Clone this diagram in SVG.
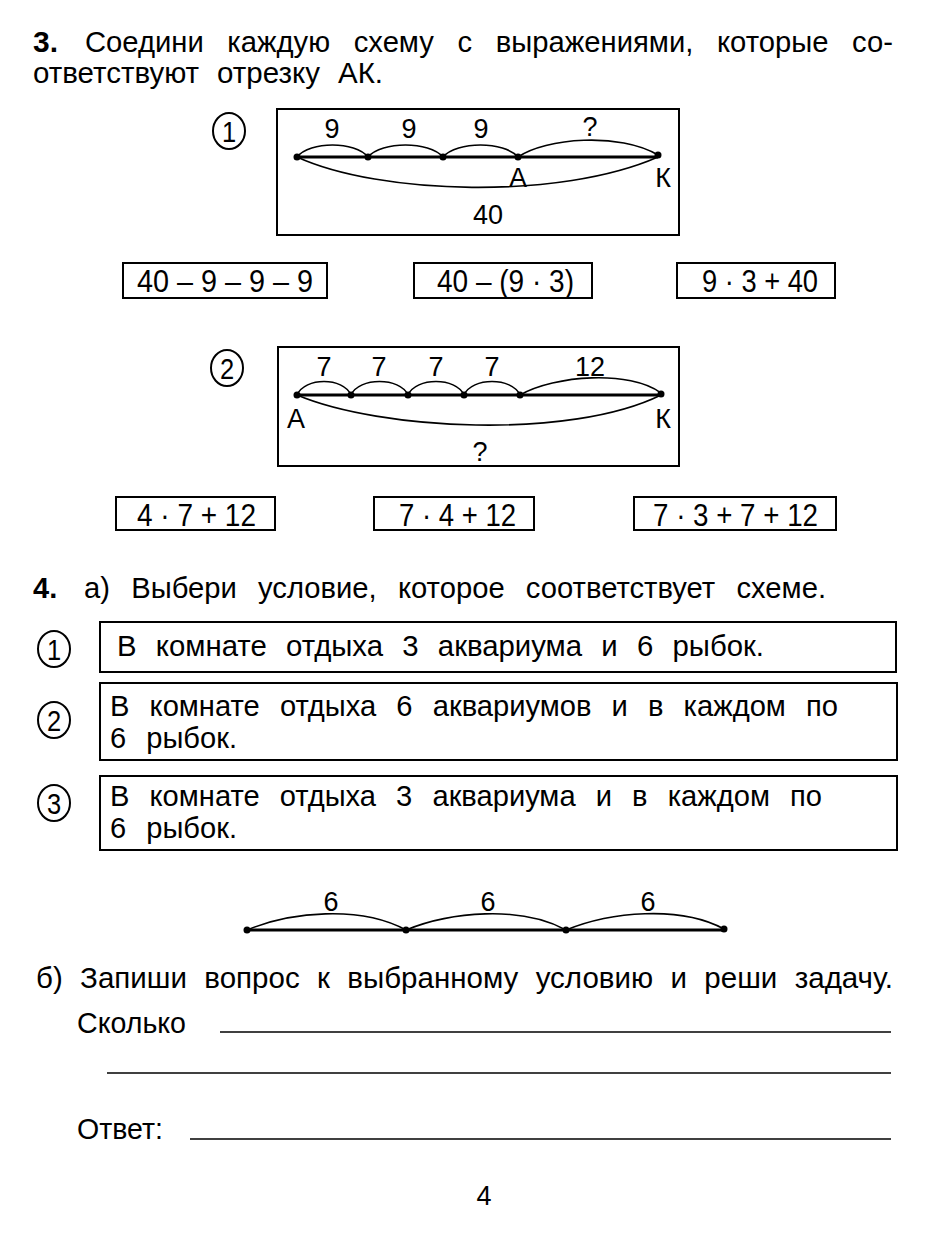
<svg xmlns="http://www.w3.org/2000/svg" width="933" height="1234" viewBox="0 0 933 1234">
<style>
text{font-family:"Liberation Sans",Arial,sans-serif;fill:#000}
.h{font-size:30px}
.b{font-weight:bold}
.t{font-size:29px}
.e{font-size:31px}
.l{font-size:27px;text-anchor:middle}
.n{font-size:30px;text-anchor:middle}
.frame{fill:none;stroke:#000;stroke-width:2}
.line{fill:none;stroke:#000;stroke-width:3}
.arc{fill:none;stroke:#000;stroke-width:1.6}
.ul{stroke:#000;stroke-width:1.6}
</style>
<rect width="933" height="1234" fill="#fff"/>

<g id="task3-header">
<text class="h b" x="33" y="52">3.</text>
<text class="h" x="85" y="52" word-spacing="16" textLength="808" lengthAdjust="spacingAndGlyphs">Соедини каждую схему с выражениями, которые со-</text>
<text class="h" x="33" y="83" word-spacing="10" textLength="350" lengthAdjust="spacingAndGlyphs">ответствуют отрезку АК.</text>
</g>

<g id="scheme1">
<ellipse cx="229" cy="131" rx="16" ry="18" class="frame"/>
<text class="n" transform="translate(229,142) scale(0.85,1)">1</text>
<rect x="277" y="109" width="402" height="126" class="frame"/>
<path class="line" d="M297,157H658"/>
<path class="arc" d="M297,157C310,141 355,141 368,157M368,157C382,141 429,141 443,157M443,157C457,141 504,141 518,157M518,157C545,138 620,132 658,155M297,157C380,195 560,200 658,157"/>
<g fill="#000"><circle cx="297" cy="157" r="3.5"/><circle cx="368" cy="157" r="3.5"/><circle cx="443" cy="157" r="3.5"/><circle cx="518" cy="157" r="3.5"/><circle cx="658" cy="155" r="3.5"/></g>
<text class="l" x="332" y="138">9</text>
<text class="l" x="409" y="138">9</text>
<text class="l" x="481" y="138">9</text>
<text class="l" x="590" y="136">?</text>
<text class="l" x="518" y="187">А</text>
<text class="l" x="663" y="187">К</text>
<text class="l" x="488" y="224">40</text>
</g>

<g id="expr1">
<rect x="123" y="263" width="204" height="35" class="frame"/>
<text class="e" x="137" y="292" textLength="176" lengthAdjust="spacingAndGlyphs">40 – 9 – 9 – 9</text>
<rect x="414" y="263" width="178" height="35" class="frame"/>
<text class="e" x="437" y="292" textLength="137" lengthAdjust="spacingAndGlyphs">40 – (9 · 3)</text>
<rect x="677" y="263" width="158" height="35" class="frame"/>
<text class="e" x="702" y="292" textLength="116" lengthAdjust="spacingAndGlyphs">9 · 3 + 40</text>
</g>

<g id="scheme2">
<ellipse cx="227" cy="368" rx="16" ry="18" class="frame"/>
<text class="n" transform="translate(227,379) scale(0.85,1)">2</text>
<rect x="278" y="347" width="401" height="119" class="frame"/>
<path class="line" d="M297,395H661"/>
<path class="arc" d="M297,395C305,377 343,377 351,395M351,395C359,377 400,377 408,395M408,395C416,377 456,377 464,395M464,395C472,377 512,377 520,395M520,395C555,375 630,370 661,393M297,395C380,430 570,440 661,395"/>
<g fill="#000"><circle cx="297" cy="395" r="3.5"/><circle cx="351" cy="395" r="3.5"/><circle cx="408" cy="395" r="3.5"/><circle cx="464" cy="395" r="3.5"/><circle cx="520" cy="395" r="3.5"/><circle cx="661" cy="394" r="3.5"/></g>
<text class="l" x="324" y="376">7</text>
<text class="l" x="379" y="376">7</text>
<text class="l" x="436" y="376">7</text>
<text class="l" x="492" y="376">7</text>
<text class="l" x="590" y="376">12</text>
<text class="l" x="296" y="428">А</text>
<text class="l" x="663" y="428">К</text>
<text class="l" x="480" y="461">?</text>
</g>

<g id="expr2">
<rect x="116" y="497" width="159" height="33" class="frame"/>
<text class="e" x="137" y="526" textLength="119" lengthAdjust="spacingAndGlyphs">4 · 7 + 12</text>
<rect x="374" y="497" width="160" height="33" class="frame"/>
<text class="e" x="399" y="526" textLength="117" lengthAdjust="spacingAndGlyphs">7 · 4 + 12</text>
<rect x="634" y="497" width="202" height="33" class="frame"/>
<text class="e" x="653" y="526" textLength="165" lengthAdjust="spacingAndGlyphs">7 · 3 + 7 + 12</text>
</g>

<g id="task4-header">
<text class="t b" x="33" y="598">4.</text>
<text class="t" x="84" y="598" word-spacing="13" textLength="742" lengthAdjust="spacingAndGlyphs">а) Выбери условие, которое соответствует схеме.</text>
</g>

<g id="option1">
<ellipse cx="54" cy="649" rx="16" ry="18" class="frame"/>
<text class="n" transform="translate(54,660) scale(0.85,1)">1</text>
<rect x="100" y="622" width="796" height="50" class="frame"/>
<text class="t" x="117" y="656" word-spacing="11" textLength="647" lengthAdjust="spacingAndGlyphs">В комнате отдыха 3 аквариума и 6 рыбок.</text>
</g>

<g id="option2">
<ellipse cx="54" cy="720" rx="16" ry="18" class="frame"/>
<text class="n" transform="translate(54,731) scale(0.85,1)">2</text>
<rect x="100" y="683" width="797" height="77" class="frame"/>
<text class="t" x="110" y="716" word-spacing="12" textLength="728" lengthAdjust="spacingAndGlyphs">В комнате отдыха 6 аквариумов и в каждом по</text>
<text class="t" x="110" y="748" word-spacing="12" textLength="127" lengthAdjust="spacingAndGlyphs">6 рыбок.</text>
</g>

<g id="option3">
<ellipse cx="54" cy="803" rx="16" ry="18" class="frame"/>
<text class="n" transform="translate(54,814) scale(0.85,1)">3</text>
<rect x="100" y="776" width="797" height="74" class="frame"/>
<text class="t" x="110" y="806" word-spacing="12" textLength="712" lengthAdjust="spacingAndGlyphs">В комнате отдыха 3 аквариума и в каждом по</text>
<text class="t" x="110" y="838" word-spacing="12" textLength="127" lengthAdjust="spacingAndGlyphs">6 рыбок.</text>
</g>

<g id="scheme3">
<path class="line" d="M247,930H724"/>
<path class="arc" d="M247,930C290,912 360,905 406,930M406,930C450,912 520,905 566,930M566,930C610,912 680,905 724,929"/>
<g fill="#000"><circle cx="247" cy="930" r="3.5"/><circle cx="406" cy="930" r="3.5"/><circle cx="566" cy="930" r="3.5"/><circle cx="724" cy="929" r="3.5"/></g>
<text class="l" x="331" y="911">6</text>
<text class="l" x="488" y="911">6</text>
<text class="l" x="648" y="911">6</text>
</g>

<g id="task4b">
<text class="t" x="36" y="988" word-spacing="9" textLength="857" lengthAdjust="spacingAndGlyphs">б) Запиши вопрос к выбранному условию и реши задачу.</text>
<text class="t" x="77" y="1033" textLength="109" lengthAdjust="spacingAndGlyphs">Сколько</text>
<line class="ul" x1="220" y1="1032" x2="891" y2="1032"/>
<line class="ul" x1="107" y1="1073" x2="891" y2="1073"/>
<text class="t" x="77" y="1139" textLength="86" lengthAdjust="spacingAndGlyphs">Ответ:</text>
<line class="ul" x1="190" y1="1139" x2="891" y2="1139"/>
</g>

<text class="l" x="484" y="1205">4</text>
</svg>
